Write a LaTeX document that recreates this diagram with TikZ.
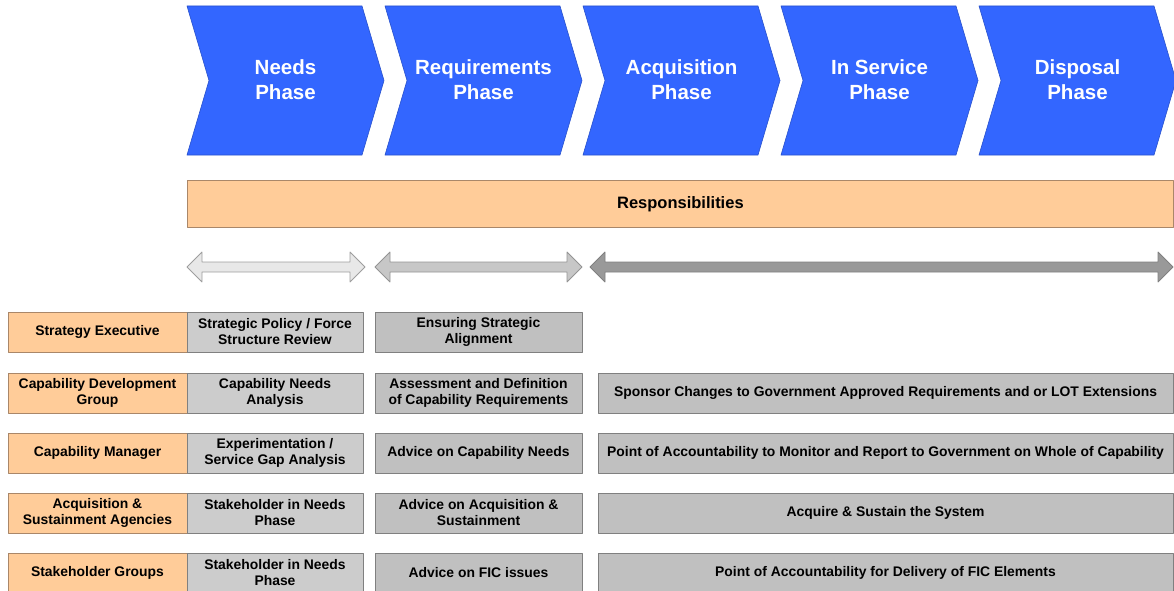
\documentclass[tikz,border=0pt]{standalone}
\usepackage{fontspec}
\setmainfont{Liberation Sans}
\usetikzlibrary{positioning}
\definecolor{phaseblue}{RGB}{51,102,255}
\definecolor{rolefill}{RGB}{255,204,153}
\definecolor{roleline}{RGB}{170,135,105}
\definecolor{lightgray}{RGB}{204,204,204}
\definecolor{midgray}{RGB}{192,192,192}
\definecolor{boxline}{RGB}{128,128,128}
% double block arrow from x=#1 to x=#2 at height 267
\newcommand{\dblarrow}[3]{%
  \draw[#3] (#1,267) -- (#1+15,252) -- (#1+15,262) -- (#2-15,262) -- (#2-15,252)
    -- (#2,267) -- (#2-15,282) -- (#2-15,272) -- (#1+15,272) -- (#1+15,282) -- cycle;}
\begin{document}
\begin{tikzpicture}[x=1pt, y=-1pt, line join=round,
    phase/.style={fill=phaseblue, draw=phaseblue!80!black, line width=0.6pt},
    phasetext/.style={text=white, align=center, font=\fontsize{20.5}{25}\selectfont\bfseries},
    cell/.style={draw=boxline, line width=0.8pt, minimum height=40pt, inner sep=0pt, outer sep=0pt,
      align=center, font=\fontsize{13.9}{16}\selectfont\bfseries},
    role/.style={cell, fill=rolefill, draw=roleline, minimum width=179pt},
    needbox/.style={cell, fill=lightgray, minimum width=176pt},
    reqbox/.style={cell, fill=midgray, minimum width=207pt},
    lifebox/.style={cell, fill=midgray, minimum width=575pt}]
  \useasboundingbox (0,0) rectangle (1174,591);
  % Phasen-Pfeile
  \foreach \x/\name/\txt in {187/needs/Needs, 385/reqs/Requirements, 583/acq/Acquisition,
      781/serv/In Service, 979/disp/Disposal} {
    \draw[phase] (\x,6) -- ++(175,0) -- ++(22,74.5) -- ++(-22,74.5) -- ++(-175,0)
      -- ++(22,-74.5) -- cycle;
    \node[phasetext] (\name) at (\x+98.5,80) {\txt\\Phase};
  }
  \node[draw=roleline, fill=rolefill, line width=0.8pt, anchor=north west, minimum width=986pt,
    minimum height=47pt, inner sep=0pt, font=\fontsize{16.5}{19}\selectfont\bfseries] (resp)
    at (187,180) {Responsibilities};
  % Zeitraeume
  \dblarrow{187}{365}{fill=black!9, draw=black!38, line width=0.8pt}
  \dblarrow{375}{582}{fill=black!22, draw=black!42, line width=0.8pt}
  \dblarrow{590}{1173}{fill=black!40, draw=black!50, line width=0.8pt}
  % Zeilen
  \node[role, anchor=north west] (r1) at (8,312) {Strategy Executive};
  \node[needbox, right=0pt of r1] (n1) {Strategic Policy / Force\\Structure Review};
  \node[reqbox, right=12pt of n1] (q1) {Ensuring Strategic\\Alignment};

  \node[role, anchor=north west] (r2) at (8,373) {Capability Development\\Group};
  \node[needbox, right=0pt of r2] (n2) {Capability Needs\\Analysis};
  \node[reqbox, right=12pt of n2] (q2) {Assessment and Definition\\of Capability Requirements};
  \node[lifebox, right=16pt of q2] (l2) {Sponsor Changes to Government Approved Requirements and or LOT Extensions};

  \node[role, anchor=north west] (r3) at (8,433) {Capability Manager};
  \node[needbox, right=0pt of r3] (n3) {Experimentation /\\Service Gap Analysis};
  \node[reqbox, right=12pt of n3] (q3) {Advice on Capability Needs};
  \node[lifebox, right=16pt of q3] (l3) {Point of Accountability to Monitor and Report to Government on Whole of Capability};

  \node[role, anchor=north west] (r4) at (8,493) {Acquisition \&\\Sustainment Agencies};
  \node[needbox, right=0pt of r4] (n4) {Stakeholder in Needs\\Phase};
  \node[reqbox, right=12pt of n4] (q4) {Advice on Acquisition \&\\Sustainment};
  \node[lifebox, right=16pt of q4] (l4) {Acquire \& Sustain the System};

  \node[role, anchor=north west] (r5) at (8,553) {Stakeholder Groups};
  \node[needbox, right=0pt of r5] (n5) {Stakeholder in Needs\\Phase};
  \node[reqbox, right=12pt of n5] (q5) {Advice on FIC issues};
  \node[lifebox, right=16pt of q5] (l5) {Point of Accountability for Delivery of FIC Elements};
\end{tikzpicture}
\end{document}
